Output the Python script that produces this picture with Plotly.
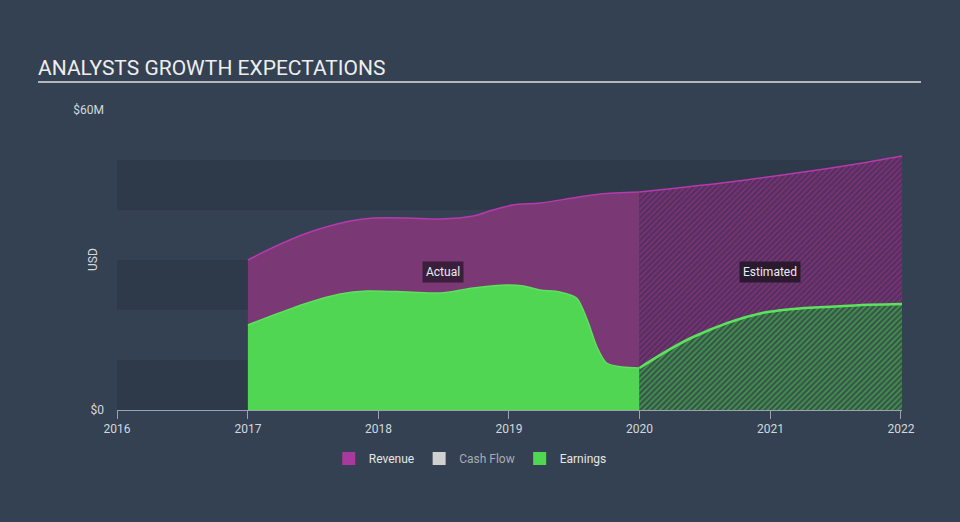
import plotly.graph_objects as go

# ---- data (USD millions) ----
rev_act_x = ["2017-01-01", "2017-03-15", "2017-06-16", "2017-10-14", "2017-12-17",
             "2018-03-24", "2018-06-23", "2018-09-23", "2018-11-17", "2019-01-11",
             "2019-03-29", "2019-06-29", "2019-09-13", "2020-01-01"]
rev_act_y = [30.0, 32.6, 35.4, 37.8, 38.4, 38.4, 38.2, 38.8, 40.0, 41.0, 41.4, 42.4, 43.2, 43.6]

rev_est_x = ["2020-01-01", "2020-09-10", "2021-03-15", "2021-09-16", "2022-01-04"]
rev_est_y = [43.6, 45.6, 47.4, 49.4, 50.8]

earn_act_x = ["2017-01-01", "2017-03-15", "2017-06-16", "2017-09-16", "2017-12-01",
              "2018-03-24", "2018-06-23", "2018-09-23", "2018-12-27", "2019-02-10",
              "2019-03-29", "2019-05-23", "2019-07-09", "2019-08-08", "2019-09-04",
              "2019-10-01", "2019-11-14", "2020-01-01"]
earn_act_y = [17.0, 19.0, 21.4, 23.2, 23.8, 23.6, 23.4, 24.4, 25.0, 24.8,
              24.0, 23.6, 22.4, 18.0, 12.6, 9.4, 8.6, 8.4]

earn_est_x = ["2020-01-01", "2020-05-30", "2020-12-09", "2021-07-24", "2022-01-04"]
earn_est_y = [8.4, 14.6, 19.4, 20.8, 21.2]

y_tick_vals = [0, 60]
y_tick_text = ["$0", "$60M"]
legend_names = ["Revenue", "Cash Flow", "Earnings"]
legend_colors = ["#a8399e", "#d0d0d0", "#51d651"]

BG = "#344152"
BAND = "#2e3a49"
REV_LINE = "#b53aac"
REV_FILL = "#7a3975"
EARN_LINE = "#5ce25c"
EARN_FILL = "#51d653"

fig = go.Figure()

# Revenue actual
fig.add_trace(go.Scatter(x=rev_act_x, y=rev_act_y, mode="lines", fill="tozeroy",
                         line=dict(color=REV_LINE, width=1.5, shape="spline", smoothing=0.8),
                         fillcolor=REV_FILL, showlegend=False, hoverinfo="skip"))
# Revenue estimated (hatched)
fig.add_trace(go.Scatter(x=rev_est_x, y=rev_est_y, mode="lines", fill="tozeroy",
                         line=dict(color=REV_LINE, width=1.5, shape="spline", smoothing=0.8),
                         fillcolor="#55305c",
                         fillpattern=dict(shape="/", size=4, solidity=0.4,
                                          fgcolor="#a0369a", bgcolor="#55305c"),
                         showlegend=False, hoverinfo="skip"))
# Earnings actual
fig.add_trace(go.Scatter(x=earn_act_x, y=earn_act_y, mode="lines", fill="tozeroy",
                         line=dict(color=EARN_LINE, width=1.5, shape="spline", smoothing=0.8),
                         fillcolor=EARN_FILL, showlegend=False, hoverinfo="skip"))
# Earnings estimated (hatched)
fig.add_trace(go.Scatter(x=earn_est_x, y=earn_est_y, mode="lines", fill="tozeroy",
                         line=dict(color=EARN_LINE, width=2.5, shape="spline", smoothing=1.0),
                         fillcolor="#37554a",
                         fillpattern=dict(shape="/", size=4, solidity=0.4,
                                          fgcolor="#51d651", bgcolor="#37554a"),
                         showlegend=False, hoverinfo="skip"))

# legend entries
for name, col in zip(legend_names, legend_colors):
    label = name if name != "Cash Flow" else "<span style='color:#a7adb4'>Cash Flow</span>"
    fig.add_trace(go.Scatter(x=[None], y=[None], mode="markers", name=label,
                             marker=dict(symbol="square", size=13, color=col)))

# background bands
for lo in [0, 20, 40]:
    fig.add_shape(type="rect", xref="paper", yref="y", x0=0, x1=1, y0=lo, y1=lo + 10,
                  fillcolor=BAND, line=dict(width=0), layer="below")

# title underline
fig.add_shape(type="line", xref="paper", yref="paper", x0=-0.1006, x1=1.0242, y0=1.093, y1=1.093,
              line=dict(color="#b2b7bd", width=2))

fig.add_annotation(text="Actual", x="2018-07-01", y=27.6, showarrow=False,
                   font=dict(color="#ececec", size=12), bgcolor="#3b1d3c", borderpad=3)
fig.add_annotation(text="Estimated", x="2021-01-01", y=27.6, showarrow=False,
                   font=dict(color="#ececec", size=12), bgcolor="#2b1a2e", borderpad=3)
fig.add_annotation(text="USD", xref="paper", yref="paper", x=-0.042, y=0.5, textangle=-90,
                   showarrow=False, font=dict(color="#d4d8dc", size=12))

fig.update_layout(
    width=960, height=522,
    paper_bgcolor=BG, plot_bgcolor=BG,
    margin=dict(l=117, r=58, t=110, b=112),
    font=dict(family="Roboto, sans-serif", color="#d4d8dc", size=12),
    title=dict(text="ANALYSTS GROWTH EXPECTATIONS", x=0.0396, xanchor="left",
               y=1 - 68 / 522, yanchor="middle", yref="container",
               font=dict(size=21, color="#eeeeee")),
    xaxis=dict(type="date", range=["2016-01-01", "2022-01-04"], dtick="M12",
               tick0="2016-01-01", tickformat="%Y", showgrid=False, zeroline=False,
               showline=True, linecolor="#9aa3ae", linewidth=1,
               ticks="outside", ticklen=8, tickcolor="#9aa3ae",
               tickfont=dict(size=12, color="#d4d8dc")),
    yaxis=dict(range=[0, 60], tickvals=y_tick_vals, ticktext=y_tick_text,
               showgrid=False, zeroline=False, showline=False, ticks="",
               ticklabelstandoff=12, tickfont=dict(size=12, color="#d4d8dc")),
    legend=dict(orientation="h", x=0.45, xanchor="center", y=-0.162, yanchor="middle",
                font=dict(size=12, color="#e6e6e6"), itemwidth=30, bgcolor="rgba(0,0,0,0)"),
    showlegend=True,
)

fig.write_html("out.html")
